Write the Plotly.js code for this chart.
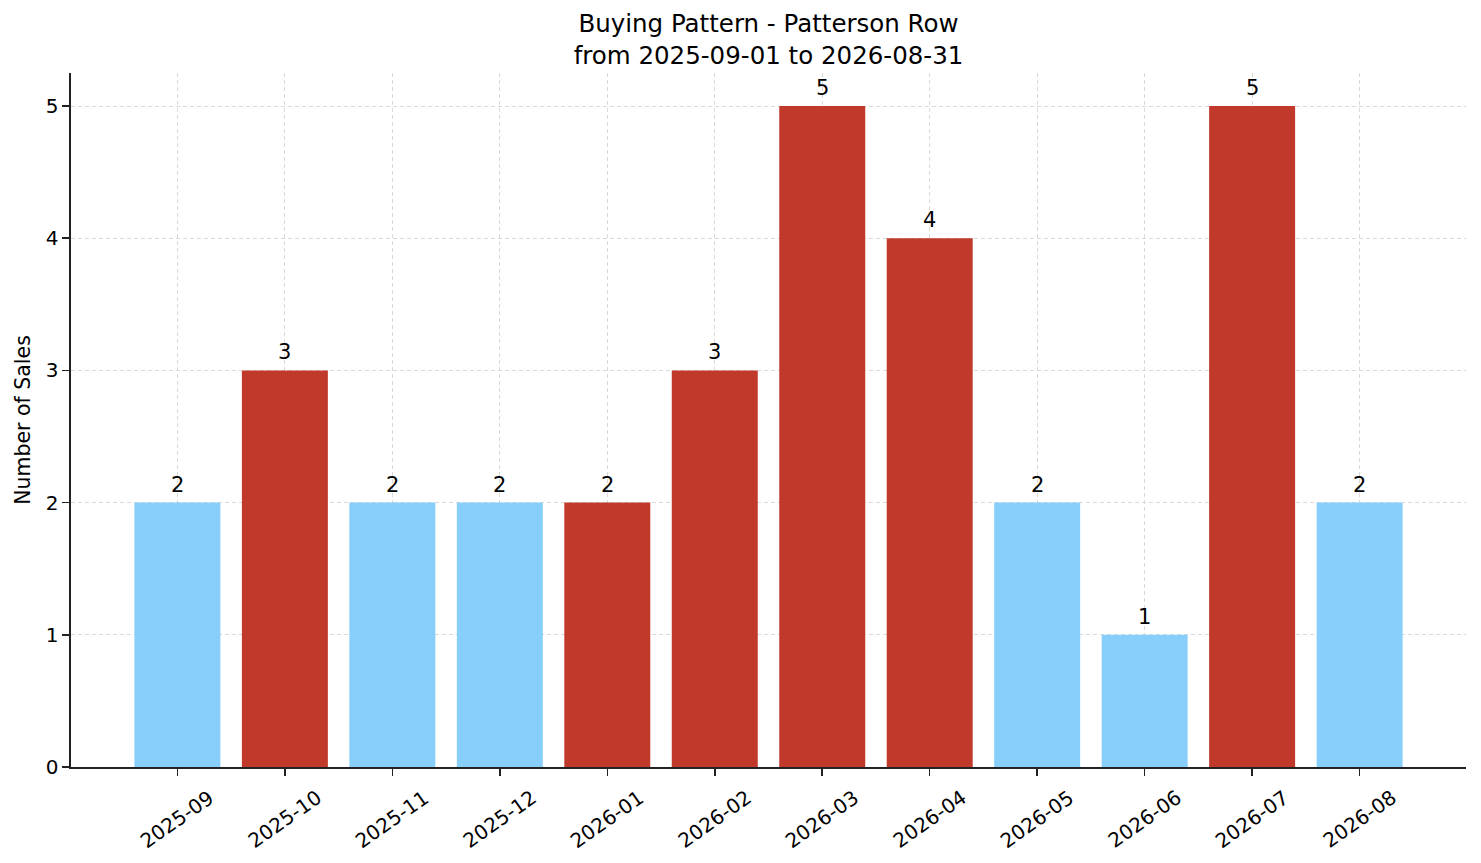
<!DOCTYPE html>
<html>
<head>
<meta charset="utf-8">
<script src="https://cdn.plot.ly/plotly-3.0.1.min.js"></script>
<style>
  html, body { margin: 0; padding: 0; background: #fff; }
  #chart { width: 1481px; height: 863px; }
</style>
</head>
<body>
<div id="chart"></div>
<script>
const months = [
	"2025-09", "2025-10", "2025-11", "2025-12", "2026-01", "2026-02",
	"2026-03", "2026-04", "2026-05", "2026-06", "2026-07", "2026-08",
];
const sales = [2, 3, 2, 2, 2, 3, 5, 4, 2, 1, 5, 2];
// months drawn in red
const peak = [false, true, false, false, true, true, true, true, false, false, true, false];

const RED = "#C0392B";
const BLUE = "#87CEFA";
const FONT = "DejaVu Sans, sans-serif";

const xIdx = months.map((m, i) => i);

const trace = {
	type: "bar",
	x: xIdx,
	y: sales,
	width: 0.8,
	marker: { color: peak.map((p) => (p ? RED : BLUE)), line: { width: 0 } },
	hoverinfo: "x+y",
};

// rotated month labels, centred under each tick
const monthLabels = months.map((m, i) => ({
	x: i,
	y: -0.022,
	xref: "x",
	yref: "paper",
	text: m,
	showarrow: false,
	textangle: -35,
	xanchor: "center",
	yanchor: "top",
	font: { family: FONT, size: 20, color: "#000" },
}));

// value on top of each bar
const valueLabels = sales.map((v, i) => ({
	x: i,
	y: v,
	xref: "x",
	yref: "y",
	text: String(v),
	showarrow: false,
	xanchor: "center",
	yanchor: "bottom",
	yshift: 4,
	font: { family: FONT, size: 21, color: "#000" },
}));

const gridStyle = {
	showgrid: true,
	gridcolor: "#dadada",
	griddash: "4px,3px",
	gridwidth: 1,
};

const layout = {
	width: 1481,
	height: 863,
	margin: { l: 71, r: 15, t: 73, b: 96 },
	paper_bgcolor: "#fff",
	plot_bgcolor: "#fff",
	showlegend: false,
	font: { family: FONT, color: "#000" },
	title: {
		text: "Buying Pattern - Patterson Row<br>from 2025-09-01 to 2026-08-31",
		font: { family: FONT, size: 24.5, color: "#000" },
		x: 0.5,
		xref: "paper",
		y: 1 - 32 / 863,
		yref: "container",
		yanchor: "middle",
	},
	xaxis: Object.assign({
		range: [-0.99, 11.99],
		tickvals: xIdx,
		ticktext: months.map(() => ""),
		ticks: "outside",
		ticklen: 7,
		tickwidth: 1.5,
		tickcolor: "#222",
		showline: true,
		linecolor: "#222",
		linewidth: 1.6,
		zeroline: false,
		fixedrange: true,
	}, gridStyle),
	yaxis: Object.assign({
		range: [0, 5.25],
		tickvals: [0, 1, 2, 3, 4, 5],
		ticks: "outside",
		ticklen: 7,
		tickwidth: 1.5,
		tickcolor: "#222",
		tickfont: { family: FONT, size: 20, color: "#000" },
		showline: true,
		linecolor: "#222",
		linewidth: 1.6,
		zeroline: false,
		automargin: false,
		title: {
			text: "Number of Sales",
			font: { family: FONT, size: 20.5, color: "#000" },
			standoff: 9,
		},
	}, gridStyle),
	annotations: monthLabels.concat(valueLabels),
	bargap: 0.2,
};

Plotly.newPlot("chart", [trace], layout, { displayModeBar: false, staticPlot: true });
</script>
</body>
</html>
